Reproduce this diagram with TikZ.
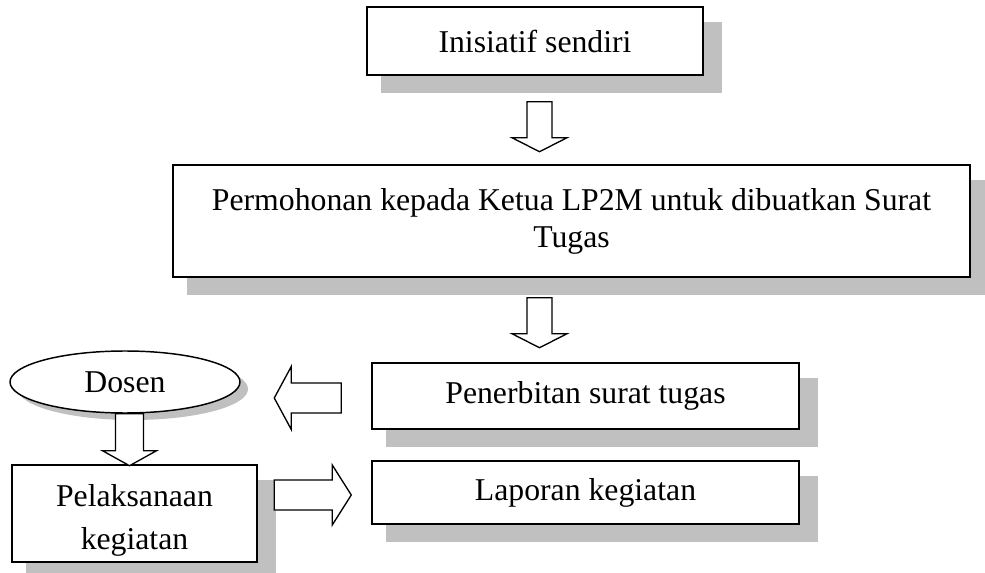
\documentclass[tikz,border=0pt]{standalone}
\usepackage{fontspec}
\setmainfont{Liberation Serif}
\usetikzlibrary{shapes.geometric,calc,backgrounds}
\definecolor{shadowgray}{RGB}{192,192,192}

\tikzset{every picture/.style={line width=0.75pt}}
\tikzset{
  stepbox/.style={draw, line width=1.1pt, fill=white, inner sep=0pt, align=center,
    font=\fontsize{23.8}{27.75}\selectfont},
  ovalbox/.style={ellipse, draw, line width=1.1pt, fill=white, inner sep=0pt,
    font=\fontsize{23.8}{27}\selectfont},
  boxshadow/.style={fill=shadowgray},
  hollowarrow/.style={draw, line width=1pt, fill=white, line join=miter},
  % hollow block arrows: shaft half width, head half width, shaft length, head length
  pics/downarrow/.style n args={4}{code={
    \draw[hollowarrow, yscale=-1] (-#1,0) -- (#1,0) -- (#1,#3) -- (#2,#3) -- (0,{#3+(#4)}) -- (-#2,#3) -- (-#1,#3) -- cycle;
  }},
  pics/sidearrow/.style n args={4}{code={
    \draw[hollowarrow] (0,-#1) -- (0,#1) -- (#3,#1) -- (#3,#2) -- ({#3+(#4)},0) -- (#3,-#2) -- (#3,-#1) -- cycle;
  }}
}

\begin{document}
\begin{tikzpicture}[x=0.75pt,y=0.75pt,yscale=-1,xscale=1]
\useasboundingbox (0,0) rectangle (985,573);
\clip (0,0) rectangle (985,573);

% Boxes
\node[stepbox, minimum width=252pt, minimum height=51pt] (inisiatif) at (535,41) {Inisiatif sendiri};
\node[stepbox, minimum width=597.75pt, minimum height=84pt] (permohonan) at (571.5,221) {Permohonan kepada Ketua LP2M untuk dibuatkan Surat\\Tugas};
\node[stepbox, minimum width=320.25pt, minimum height=49.5pt] (penerbitan) at (585.5,396) {Penerbitan surat tugas};
\node[stepbox, minimum width=320.25pt, minimum height=47.25pt] (laporan) at (585.5,492.5) {Laporan kegiatan};
\node[stepbox, minimum width=183.75pt, minimum height=72.75pt, text height=59pt, font=\fontsize{23.8}{32.25}\selectfont] (pelaksanaan) at (134.5,513.5) {Pelaksanaan\\kegiatan};
% Ellipse
\node[ovalbox, minimum width=172.5pt, minimum height=46.5pt] (dosen) at (125,382) {\raisebox{-2pt}{Dosen}};

% Shadows
\begin{scope}[on background layer]
\foreach \n in {inisiatif,permohonan,penerbitan,laporan,pelaksanaan}
  \fill[boxshadow] ($(\n.north west)+(15,16)$) rectangle ($(\n.south east)+(18,17)$);
\fill[boxshadow] ($(dosen.center)+(8,7)$) ellipse [x radius=115, y radius=31];
\end{scope}

% Block arrows
\coordinate (a1) at ($(inisiatif.south)+(4.5,26)$);
\coordinate (a2) at ($(permohonan.south)+(-32,20)$);
\coordinate (a3) at ($(penerbitan.west)+(-30,2)$);
\coordinate (a4) at ($(dosen.south)+(4.5,0)$);
\coordinate (a5) at ($(laporan.west)+(-97,2.5)$);
\pic at (a1) {downarrow={12.5}{27.5}{36}{14}};
\pic at (a2) {downarrow={12.5}{27.5}{36}{14}};
\pic at (a3) {sidearrow={15}{31.5}{-50}{-17}};
\pic at (a4) {downarrow={14}{27}{37}{15}};
\pic at (a5) {sidearrow={15}{30}{58}{19}};

\end{tikzpicture}
\end{document}
